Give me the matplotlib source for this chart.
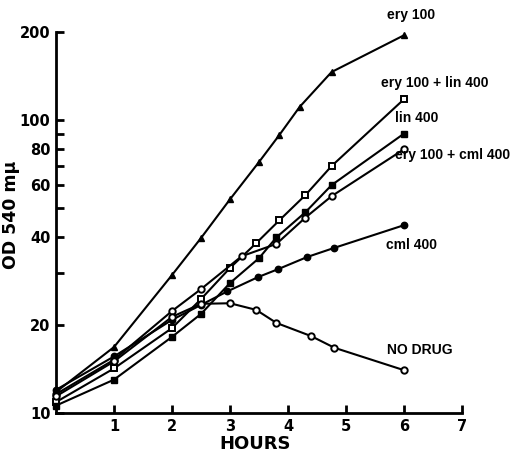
import numpy as np
import matplotlib
matplotlib.use('Agg')
import matplotlib.pyplot as plt
from matplotlib.ticker import FixedLocator, NullLocator, NullFormatter

# growth curves, OD 540 mu vs hours
ery_x = [0, 1, 2, 2.5, 3, 3.5, 3.85, 4.2, 4.75, 6]
ery_y = [11.8, 16.8, 29.6, 39.6, 53.7, 72, 89, 111, 146, 195]

erylin_x = [0, 1, 2, 2.5, 3, 3.45, 3.85, 4.3, 4.75, 6]
erylin_y = [10.9, 14.2, 19.5, 24.5, 31.3, 38, 45.5, 55.5, 69.7, 118]

lin_x = [0, 1, 2, 2.5, 3, 3.5, 3.8, 4.3, 4.75, 6]
lin_y = [10.6, 13.0, 18.2, 21.8, 27.8, 33.8, 39.8, 48.5, 60, 90]

erycml_x = [0, 1, 2, 2.5, 3.2, 3.8, 4.3, 4.75, 6]
erycml_y = [11.6, 15.2, 22.3, 26.5, 34.3, 37.8, 46.5, 55, 79.6]

cml_x = [0, 1, 2, 2.5, 2.95, 3.48, 3.83, 4.33, 4.79, 6]
cml_y = [12.0, 15.6, 20.8, 23.4, 26.0, 29.1, 31.0, 34.1, 36.6, 43.8]

nodrug_x = [0, 1, 2, 2.5, 3, 3.45, 3.8, 4.4, 4.8, 6]
nodrug_y = [11.4, 15.0, 21.3, 23.6, 23.7, 22.5, 20.3, 18.3, 16.7, 14.0]

fig = plt.figure(figsize=(5.14, 4.54), dpi=100)
ax = fig.add_axes([0.109, 0.0903, 0.79, 0.8392])

lw = 1.5
ms = 4.6
ax.plot(ery_x, ery_y, '-^', color='black', lw=lw, ms=ms + 0.4, mfc='black', clip_on=False, zorder=3)
ax.plot(erylin_x, erylin_y, '-s', color='black', lw=lw, ms=ms - 0.4, mfc='white', mew=1.4, clip_on=False, zorder=3)
ax.plot(lin_x, lin_y, '-s', color='black', lw=lw, ms=ms - 0.4, mfc='black', clip_on=False, zorder=3)
ax.plot(erycml_x, erycml_y, '-o', color='black', lw=lw, ms=ms, mfc='white', mew=1.4, clip_on=False, zorder=3)
ax.plot(cml_x, cml_y, '-o', color='black', lw=lw, ms=ms, mfc='black', clip_on=False, zorder=3)
ax.plot(nodrug_x, nodrug_y, '-o', color='black', lw=lw, ms=ms, mfc='white', mew=1.4, clip_on=False, zorder=3)

ax.set_yscale('log')
ax.set_xlim(0, 7)
ax.set_ylim(10, 200)

ax.spines['top'].set_visible(False)
ax.spines['right'].set_visible(False)
ax.spines['left'].set_linewidth(2)
ax.spines['bottom'].set_linewidth(2)

yticks = [10, 20, 30, 40, 50, 60, 70, 80, 90, 100, 200]
ylabels = ['10', '20', '', '40', '', '60', '', '80', '', '100', '200']
ax.yaxis.set_major_locator(FixedLocator(yticks))
ax.yaxis.set_minor_locator(NullLocator())
ax.yaxis.set_minor_formatter(NullFormatter())
ax.set_yticklabels(ylabels)
ax.set_xticks([1, 2, 3, 4, 5, 6, 7])
ax.set_xticklabels(['1', '2', '3', '4', '5', '6', '7'])
ax.tick_params(direction='in', length=6, width=2, labelsize=10.5, pad=4)
for t in ax.get_xticklabels() + ax.get_yticklabels():
    t.set_fontweight('bold')

ax.set_xlabel('HOURS', fontsize=13, fontweight='bold')
ax.xaxis.set_label_coords(0.49, -0.058)
ax.xaxis.label.set_va('top')
ax.set_ylabel('OD 540 m\u03bc', fontsize=12.5, fontweight='bold')
ax.yaxis.set_label_coords(-0.088, 0.52)

kw = dict(fontsize=10, fontweight='bold', va='center', ha='left', family='Liberation Sans')
ax.text(5.71, 228, 'ery 100', clip_on=False, **kw)
ax.text(5.6, 134, 'ery 100 + lin 400', clip_on=False, **kw)
ax.text(5.84, 101.6, 'lin 400', clip_on=False, **kw)
ax.text(5.84, 76, 'ery 100 + cml 400', clip_on=False, **kw)
ax.text(5.69, 37.4, 'cml 400', **kw)
ax.text(5.71, 16.4, 'NO DRUG', **kw)

fig.savefig('out.png', dpi=100)
